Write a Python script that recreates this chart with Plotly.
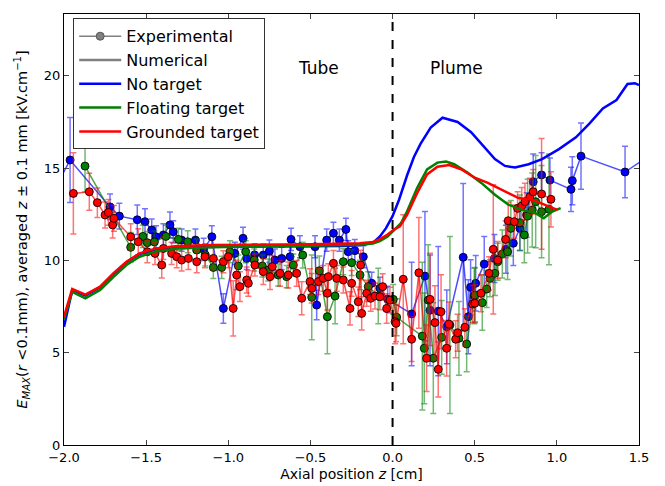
import plotly.graph_objects as go

# ---------------- Numerical curves ----------------
num_blue_x = [-2.0, -1.95, -1.87, -1.78, -1.7, -1.62, -1.54, -1.44, -1.31, -1.1, -0.8, -0.5, -0.3, -0.2, -0.12,
              -0.077, -0.04, 0.0, 0.04, 0.088, 0.13, 0.17, 0.232, 0.304, 0.396, 0.478, 0.54, 0.623, 0.684, 0.746,
              0.828, 0.91, 1.013, 1.116, 1.198, 1.28, 1.363, 1.43, 1.475, 1.5]
num_blue_y = [6.4, 8.4, 8.1, 8.55, 9.25, 9.9, 10.35, 10.6, 10.72, 10.75, 10.75, 10.75, 10.78, 10.82, 10.95,
              11.3, 11.75, 12.4, 13.3, 14.6, 15.6, 16.31, 17.2, 17.73, 17.5, 16.95, 16.3, 15.49, 15.12, 15.03,
              15.21, 15.49, 16.03, 16.67, 17.41, 18.23, 18.69, 19.56, 19.6, 19.5]

num_green_x = [-2.0, -1.95, -1.87, -1.78, -1.7, -1.62, -1.54, -1.44, -1.31, -1.1, -0.5, -0.3, -0.2, -0.12, -0.077,
               -0.03, 0.005, 0.05, 0.088, 0.15, 0.21, 0.273, 0.325, 0.375, 0.458, 0.54, 0.623, 0.705, 0.787, 0.87,
               0.92, 0.972, 1.023]
num_green_y = [6.8, 8.3, 7.95, 8.4, 9.1, 9.75, 10.2, 10.5, 10.65, 10.72, 10.8, 10.82, 10.85, 10.92, 11.05,
               11.3, 11.6, 12.0, 12.65, 13.93, 14.93, 15.3, 15.36, 15.21, 14.75, 14.2, 13.56, 13.02, 12.74, 12.56,
               12.29, 12.65, 12.83]

num_red_x = [-2.0, -1.95, -1.87, -1.78, -1.7, -1.62, -1.54, -1.44, -1.31, -1.1, -0.5, -0.3, -0.2, -0.12, -0.077,
             -0.03, 0.005, 0.045, 0.088, 0.15, 0.21, 0.273, 0.345, 0.417, 0.5, 0.58, 0.684, 0.767, 0.85, 0.93, 1.003]
num_red_y = [6.95, 8.45, 8.15, 8.58, 9.3, 9.93, 10.38, 10.65, 10.78, 10.83, 10.87, 10.9, 10.93, 11.0, 11.15,
             11.4, 11.65, 11.85, 12.46, 13.66, 14.66, 15.08, 15.17, 14.94, 14.48, 14.2, 13.75, 13.38, 13.29, 13.02, 12.74]

# ---------------- Experimental data ----------------
exp_blue_x = [-2.03, -1.963, -1.72, -1.663, -1.554, -1.507, -1.466, -1.44, -1.395, -1.355, -1.335, -1.284, -1.2,
              -1.15, -1.1, -1.03, -0.96, -0.91, -0.888, -0.84, -0.787, -0.75, -0.716, -0.675, -0.624, -0.618,
              -0.564, -0.472, -0.462, -0.401, -0.36, -0.324, -0.284, -0.27, -0.23, -0.178, -0.127, -0.077, -0.03,
              0.116, 0.197, 0.228, 0.278, 0.33, 0.43, 0.461, 0.475, 0.506, 0.558, 0.62, 0.69, 0.735, 0.775, 0.816,
              0.856, 0.907, 0.958, 1.086, 1.094, 1.147, 1.415, 1.55]
exp_blue_y = [14.3, 15.44, 12.9, 12.4, 12.2, 12.1, 11.65, 11.28, 11.38, 11.92, 11.55, 11.1, 11.1,
              10.6, 11.28, 7.4, 10.38, 11.2, 10.11, 10.3, 10.29, 10.5, 10.02, 10.11, 10.2, 11.14,
              10.74, 10.74, 7.58, 11.1, 11.47, 11.1, 11.68, 10.47, 10.53, 10.2, 8.76, 8.49, 7.9,
              7.1, 9.15, 7.3, 7.25, 6.4, 10.17, 6.95, 8.54, 8.76, 9.8, 10.1, 10.6, 10.93, 11.74, 12.46,
              14.26, 14.63, 14.35, 13.85, 14.32, 15.65, 14.79, 15.6]
exp_blue_e = [2.0, 2.3, 0.7, 0.7, 0.8, 0.7, 0.6, 0.6, 0.6, 0.7, 0.6, 0.6, 0.6,
              0.6, 0.6, 0.8, 0.6, 0.6, 0.6, 0.6, 0.6, 0.6, 0.6, 0.6, 0.6, 0.6,
              0.6, 0.6, 0.8, 0.6, 0.6, 0.6, 0.6, 0.6, 0.6, 0.6, 0.6, 0.6, 0.7,
              2.8, 3.5, 3.0, 3.5, 2.0, 4.0, 2.0, 1.5, 1.5, 1.5, 1.3, 1.3, 1.2, 1.2, 1.2,
              1.5, 1.2, 1.2, 1.2, 1.3, 1.8, 1.4, 1.0]

exp_green_x = [-1.872, -1.594, -1.52, -1.493, -1.45, -1.38, -1.304, -1.247, -1.192, -1.14, -1.091, -1.04, -0.99,
               -0.939, -0.894, -0.842, -0.793, -0.757, -0.696, -0.645, -0.604, -0.547, -0.492, -0.446, -0.397,
               -0.35, -0.3, -0.249, -0.198, -0.148, -0.087, 0.004, 0.025, 0.181, 0.193, 0.217, 0.248, 0.299,
               0.349, 0.404, 0.451, 0.497, 0.501, 0.546, 0.573, 0.593, 0.623, 0.64, 0.668, 0.7, 0.72, 0.775,
               0.802, 0.822, 0.85, 0.871, 0.907, 0.952]
exp_green_y = [15.11, 10.71, 11.3, 10.96, 11.0, 11.3, 11.14, 11.01, 10.56, 10.3, 9.62, 9.62, 10.47,
               9.7, 10.47, 10.02, 9.7, 9.48, 9.21, 9.12, 9.75, 10.29, 8.0, 9.44, 6.95,
               8.07, 9.93, 9.88, 9.21, 8.58, 8.07, 7.89, 6.92, 5.9, 5.24, 7.85, 4.7, 5.83,
               6.5, 5.78, 5.47, 8.07, 8.12, 7.71, 8.45, 9.03, 9.3, 9.93, 10.35, 10.47, 11.74, 12.04,
               11.38, 12.4, 12.73, 13.18, 12.64, 12.77]
exp_green_e = [1.4, 0.8, 0.6, 0.6, 0.6, 0.6, 0.6, 0.6, 0.6, 0.6, 0.6, 0.6, 0.6,
               0.6, 0.6, 0.6, 0.6, 0.6, 0.6, 0.6, 0.6, 0.7, 2.3, 0.8, 2.0,
               1.5, 0.7, 0.7, 0.8, 0.8, 1.5, 0.8, 1.0, 4.0, 3.0, 3.0, 3.0, 2.0,
               4.8, 2.0, 1.5, 1.5, 1.5, 1.5, 1.0, 1.0, 1.2, 1.0, 1.3, 1.5, 1.5, 1.5,
               1.5, 2.0, 2.0, 2.5, 2.5, 3.0]

exp_red_x = [-1.943, -1.846, -1.797, -1.75, -1.73, -1.704, -1.696, -1.594, -1.548, -1.493, -1.446, -1.405, -1.395,
             -1.345, -1.314, -1.284, -1.243, -1.192, -1.142, -1.091, -1.03, -1.0, -0.97, -0.949, -0.929, -0.888,
             -0.878, -0.838, -0.787, -0.746, -0.732, -0.685, -0.635, -0.584, -0.553, -0.503, -0.492, -0.452,
             -0.422, -0.397, -0.391, -0.36, -0.34, -0.3, -0.259, -0.249, -0.209, -0.194, -0.188, -0.158, -0.133,
             -0.107, -0.077, -0.06, -0.036, -0.016, 0.015, 0.021, 0.065, 0.116, 0.16, 0.207, 0.228, 0.258, 0.278,
             0.295, 0.329, 0.343, 0.384, 0.396, 0.44, 0.487, 0.501, 0.538, 0.587, 0.613, 0.64, 0.688, 0.704,
             0.741, 0.761, 0.786, 0.806, 0.836, 0.856, 0.907, 0.964]
exp_red_y = [13.63, 13.72, 13.13, 12.46, 12.6, 11.92, 12.28, 11.28, 11.01, 10.47, 10.38, 9.75, 10.65,
             10.38, 10.2, 10.02, 10.11, 9.93, 10.2, 10.11, 9.93, 10.2, 7.4, 9.21, 8.58, 8.94,
             8.76, 9.75, 9.39, 9.12, 9.66, 9.3, 9.21, 9.3, 7.95, 8.85, 8.49, 8.85,
             9.03, 8.22, 9.12, 9.84, 9.03, 8.94, 7.4, 8.76, 7.76, 9.75, 7.13, 8.22, 7.95,
             8.07, 8.03, 8.58, 7.4, 7.85, 6.68, 6.59, 8.98, 5.73, 9.33, 4.7, 7.89, 6.63, 4.1,
             7.22, 5.24, 6.55, 5.73, 6.08, 6.38, 7.64, 7.68, 8.22, 9.3, 10.6, 10.02, 11.14, 12.15,
             12.1, 12.82, 12.95, 13.18, 13.45, 13.72, 13.6, 13.31]
exp_red_e = [2.2, 1.0, 0.8, 0.7, 0.7, 0.7, 0.7, 0.7, 0.7, 0.6, 0.6, 0.7, 0.6,
             0.6, 0.6, 0.6, 0.6, 0.6, 0.6, 0.6, 0.6, 0.6, 1.5, 0.8, 0.8, 0.7,
             0.7, 0.6, 0.7, 0.7, 0.6, 0.7, 0.7, 0.7, 0.9, 0.7, 0.8, 0.7,
             0.7, 0.9, 0.7, 0.7, 0.7, 0.7, 0.9, 0.7, 0.8, 0.8, 0.9, 0.7, 0.7,
             0.7, 0.7, 0.7, 0.8, 0.7, 1.2, 1.0, 3.5, 1.2, 3.0, 1.8, 2.5, 2.0, 1.5,
             2.0, 1.5, 1.2, 1.0, 1.0, 1.0, 1.0, 1.0, 1.0, 0.9, 3.5, 1.0, 1.0, 1.0,
             0.9, 0.9, 1.0, 1.0, 1.0, 1.2, 3.0, 1.5]

# ---------------- Labels ----------------
x_ticks = [-2.0, -1.5, -1.0, -0.5, 0.0, 0.5, 1.0, 1.5]
y_ticks = [0, 5, 10, 15, 20]
region_labels = ["Tube", "Plume"]
region_label_x = [-0.45, 0.39]
region_label_y = [20.4, 20.4]

FONT = "DejaVu Sans"
fig = go.Figure()

def exp_trace(x, y, e, color, rgba_line, rgba_err):
    return go.Scatter(
        x=x, y=y, mode="lines+markers", showlegend=False, cliponaxis=True,
        line=dict(color=rgba_line, width=1.5),
        marker=dict(color=color, size=8, line=dict(color="rgba(0,0,0,0.85)", width=1)),
        error_y=dict(type="data", array=e, visible=True, color=rgba_err, thickness=1.5, width=3),
    )

fig.add_trace(exp_trace(exp_blue_x, exp_blue_y, exp_blue_e, "#0000ff", "rgba(0,0,255,0.7)", "rgba(0,0,255,0.55)"))
fig.add_trace(exp_trace(exp_green_x, exp_green_y, exp_green_e, "#008000", "rgba(0,128,0,0.7)", "rgba(0,128,0,0.55)"))
fig.add_trace(exp_trace(exp_red_x, exp_red_y, exp_red_e, "#ff0000", "rgba(255,0,0,0.7)", "rgba(255,0,0,0.55)"))

for xs, ys, c in [(num_blue_x, num_blue_y, "#0000ff"), (num_green_x, num_green_y, "#008000"),
                  (num_red_x, num_red_y, "#ff0000")]:
    fig.add_trace(go.Scatter(x=xs, y=ys, mode="lines", showlegend=False,
                             line=dict(color=c, width=2.5)))

# legend entries
fig.add_trace(go.Scatter(x=[None], y=[None], mode="lines+markers", name="Experimental",
                         line=dict(color="#808080", width=1.5),
                         marker=dict(color="#808080", size=8, line=dict(color="#555", width=1)),
                         legendgroup="a"))
fig.add_trace(go.Scatter(x=[None], y=[None], mode="lines", name="Numerical",
                         line=dict(color="#808080", width=2.5), legendgroup="b"))
fig.add_trace(go.Scatter(x=[None], y=[None], mode="lines", name="No target",
                         line=dict(color="#0000ff", width=2.5), legendgroup="c"))
fig.add_trace(go.Scatter(x=[None], y=[None], mode="lines", name="Floating target",
                         line=dict(color="#008000", width=2.5), legendgroup="d"))
fig.add_trace(go.Scatter(x=[None], y=[None], mode="lines", name="Grounded target",
                         line=dict(color="#ff0000", width=2.5), legendgroup="e"))

fig.add_shape(type="line", x0=0, x1=0, y0=0, y1=1, xref="x", yref="paper",
              line=dict(color="black", width=2, dash="dash"))

for t, tx, ty in zip(region_labels, region_label_x, region_label_y):
    fig.add_annotation(x=tx, y=ty, text=t, showarrow=False, xref="x", yref="y",
                       font=dict(family=FONT, size=17, color="black"))

fig.update_xaxes(range=[-2.0, 1.5], tickvals=x_ticks, tickformat=".1f", ticks="inside", ticklen=5,
                 showline=True, linecolor="black", linewidth=1, mirror="allticks", showgrid=False,
                 zeroline=False, tickfont=dict(family=FONT, size=13, color="black"),
                 title=dict(text="Axial position <i>z</i> [cm]", font=dict(family=FONT, size=14, color="black"),
                            standoff=5))
fig.update_yaxes(range=[0, 23.35], tickvals=y_ticks, ticks="inside", ticklen=5,
                 showline=True, linecolor="black", linewidth=1, mirror="allticks", showgrid=False,
                 zeroline=False, tickfont=dict(family=FONT, size=13, color="black"),
                 title=dict(text="<i>E</i><sub><i>MAX</i></sub>(<i>r</i> &lt;0.1mm), averaged <i>z</i> ± 0.1 mm [kV.cm<sup>−1</sup>]",
                            font=dict(family=FONT, size=14.5, color="black"), standoff=12))

fig.update_layout(
    width=665, height=486,
    margin=dict(l=64, r=26, t=14, b=41, autoexpand=False),
    paper_bgcolor="white", plot_bgcolor="white",
    font=dict(family=FONT, color="black"),
    legend=dict(x=0.016, y=0.99, xanchor="left", yanchor="top", bgcolor="white",
                bordercolor="#333", borderwidth=1, font=dict(family=FONT, size=16, color="black"),
                traceorder="grouped", tracegroupgap=0, itemwidth=42),
)

fig.write_html("out.html")
